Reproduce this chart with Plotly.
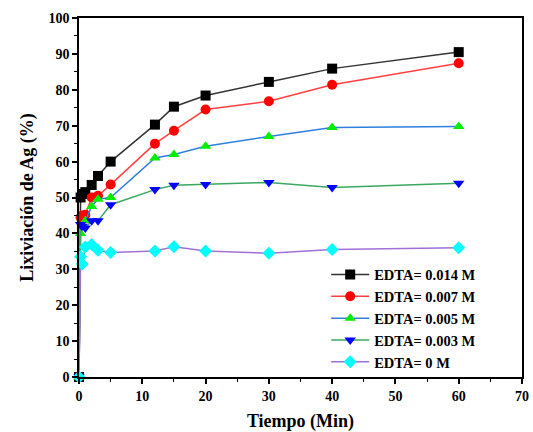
import plotly.graph_objects as go

tiempo = [0, 0.25, 0.5, 1, 2, 3, 5, 12, 15, 20, 30, 40, 60]
edta_0014 = [0, 50.0, 51.0, 51.5, 53.5, 56.0, 60.0, 70.3, 75.3, 78.4, 82.2, 85.9, 90.5]
edta_0007 = [0, 44.5, 45.0, 45.2, 50.0, 50.5, 53.6, 65.0, 68.6, 74.5, 76.8, 81.4, 87.4]
edta_0005 = [0, 40.0, 42.0, 43.5, 47.5, 49.5, 50.0, 61.0, 62.0, 64.3, 67.0, 69.5, 69.8]
edta_0003 = [0, 42.5, 42.0, 41.5, 43.5, 43.5, 48.0, 52.2, 53.4, 53.6, 54.2, 52.8, 54.0]
edta_0 = [0, 33.5, 31.5, 36.2, 36.9, 35.3, 34.7, 35.1, 36.3, 35.1, 34.5, 35.5, 36.0]

series = [
    ("EDTA= 0.014 M", edta_0014, "#333333", "#000000", "square"),
    ("EDTA= 0.007 M", edta_0007, "#ff4040", "#ff0000", "circle"),
    ("EDTA= 0.005 M", edta_0005, "#2f7fe0", "#00ee00", "triangle-up"),
    ("EDTA= 0.003 M", edta_0003, "#3aa860", "#0000ff", "triangle-down"),
    ("EDTA= 0 M", edta_0, "#a070d8", "#00ffff", "diamond"),
]

font = "Liberation Serif"
fig = go.Figure()
for name, ys, lc, mc, sym in series:
    fig.add_trace(go.Scatter(
        x=tiempo, y=ys, name=name, mode="lines+markers",
        line=dict(color=lc, width=1.5),
        marker=dict(color=mc, symbol=sym, size=10, line=dict(width=0)),
        cliponaxis=False,
    ))

axis_common = dict(
    showline=True, linecolor="black", linewidth=1.5, mirror=True,
    ticks="outside", ticklen=5, tickwidth=1.5, tickcolor="black",
    showgrid=False, zeroline=False, automargin=False,
    tickfont=dict(family=font, size=14, color="black", weight="bold"),
    minor=dict(ticks="outside", ticklen=3, tickwidth=1.2, tickcolor="black", dtick=5),
)

fig.update_layout(
    width=533, height=432,
    margin=dict(l=79, r=11, t=18, b=55),
    paper_bgcolor="white", plot_bgcolor="white",
    font=dict(family=font, color="black"),
    xaxis=dict(range=[0, 70], dtick=10, tick0=0,
               title=dict(text="Tiempo (Min)", font=dict(family=font, size=18, weight="bold"), standoff=14),
               **axis_common),
    yaxis=dict(range=[0, 100], dtick=10, tick0=0,
               title=dict(text="Lixiviación de Ag (%)", font=dict(family=font, size=18, weight="bold"), standoff=10),
               **axis_common),
    legend=dict(x=0.558, y=0.33, xanchor="left", yanchor="top",
                bgcolor="rgba(0,0,0,0)", borderwidth=0,
                font=dict(family=font, size=14.5, color="black", weight="bold"),
                tracegroupgap=0, itemwidth=38),
    showlegend=True,
)

fig.write_html("out.html")
